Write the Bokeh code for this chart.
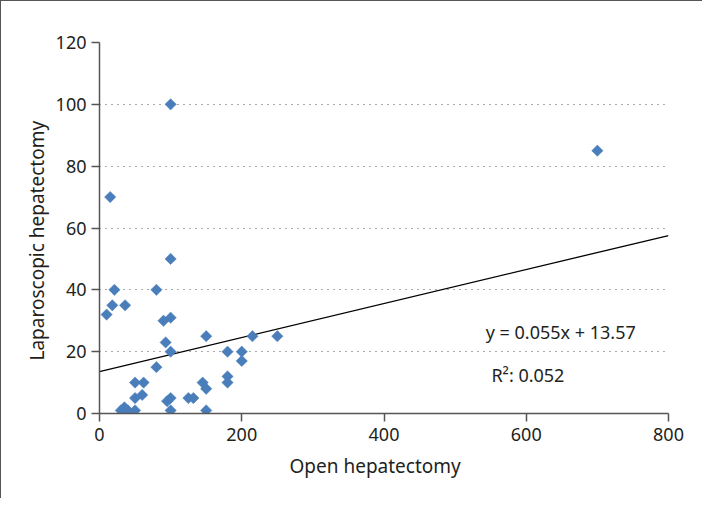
from bokeh.plotting import figure
from bokeh.models import ColumnDataSource, Label, Range1d, FixedTicker, Title
from bokeh.embed import file_html
from bokeh.resources import INLINE
import numpy as np

open_hep = [100, 21, 80, 18, 36, 10, 90, 100, 93, 100, 150, 180, 200, 200, 215, 250,
            80, 50, 62, 60, 50, 145, 150, 180, 180, 95, 100, 125, 132, 100, 150,
            30, 35, 40, 50, 15, 100, 700]
lap_hep = [50, 40, 40, 35, 35, 32, 30, 31, 23, 20, 25, 20, 20, 17, 25, 25,
           15, 10, 10, 6, 5, 10, 8, 12, 10, 4, 5, 5, 5, 1, 1,
           1, 2, 1, 1, 70, 100, 85]
slope = 0.055
intercept = 13.57
r2 = 0.052
x_ticks = [0, 200, 400, 600, 800]
y_ticks = [0, 20, 40, 60, 80, 100, 120]
x_title = "Open hepatectomy"
y_title = "Laparoscopic hepatectomy"

FONT = "Noto Sans"
TXT = "#231f20"

p = figure(width=702, height=498, output_backend="svg", toolbar_location=None,
           x_range=Range1d(0, 800), y_range=Range1d(0, 120),
           min_border_left=98, min_border_right=35, min_border_top=41, min_border_bottom=86)
p.outline_line_color = None
p.xgrid.grid_line_color = None
p.ygrid.grid_line_color = "#555555"
p.ygrid.grid_line_dash = "1 5"
p.ygrid.grid_line_width = 1.2
p.ygrid.ticker = FixedTicker(ticks=y_ticks[1:])

p.xaxis.ticker = FixedTicker(ticks=x_ticks)
p.yaxis.ticker = FixedTicker(ticks=y_ticks)
for ax in (p.xaxis, p.yaxis):
    ax.axis_line_color = "#555555"
    ax.axis_line_width = 1.5
    ax.major_tick_line_color = "#555555"
    ax.major_tick_line_width = 1.5
    ax.major_tick_in = 0
    ax.major_tick_out = 8
    ax.minor_tick_line_color = None
    ax.major_label_text_font = FONT
    ax.major_label_text_font_size = "18px"
    ax.major_label_text_color = TXT
p.xaxis.major_label_standoff = 6
p.yaxis.major_label_standoff = 5

# axis titles as side titles, offset to sit where the reference puts them
def side_title(text, offset, standoff):
    return Title(text=text, align="left", offset=offset, standoff=standoff,
                 text_font=FONT, text_font_size="19px", text_font_style="normal",
                 text_color=TXT)

p.add_layout(side_title(x_title, 190, 14), "below")
p.add_layout(side_title(y_title, 53, 6), "left")

xs = np.array(x_ticks[0:1] + x_ticks[-1:], dtype=float)
p.line(xs, slope * xs + intercept, line_color="black", line_width=1.3)

src = ColumnDataSource(dict(x=open_hep, y=lap_hep))
p.scatter("x", "y", source=src, marker="square", angle=np.pi / 4, size=8,
          fill_color="#4a7ebb", line_color="#4a7ebb", line_width=0.5)

p.add_layout(Label(x=543, y=26.5, text=f"y = {slope}x + {intercept}", text_font=FONT,
                   text_font_size="18px", text_color=TXT, text_baseline="middle"))
p.add_layout(Label(x=551, y=12.6, text=f"R\u00b2: {r2}", text_font=FONT,
                   text_font_size="18px", text_color=TXT, text_baseline="middle"))

p.styles = {"border-left": "1.5px solid #555555", "border-top": "1.5px solid #555555"}

open("out.html", "w").write(file_html(p, INLINE))
